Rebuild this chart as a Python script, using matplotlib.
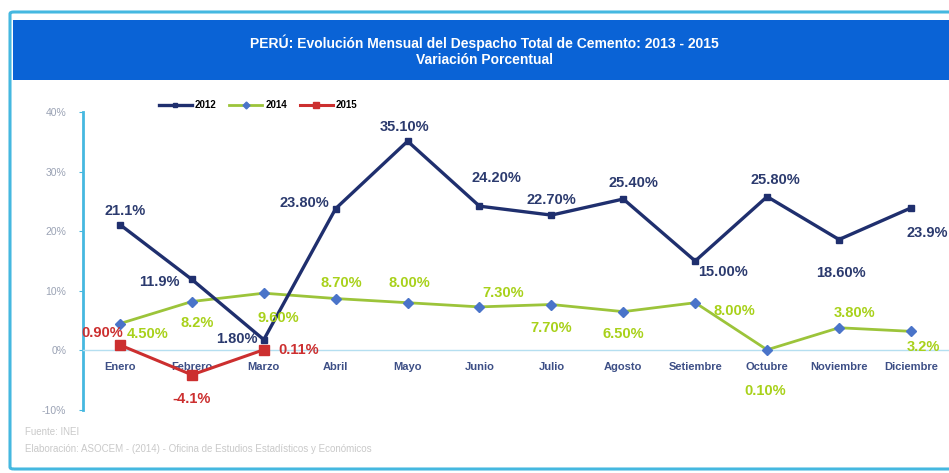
import matplotlib.pyplot as plt
from matplotlib.patches import Rectangle, FancyBboxPatch
from matplotlib.ticker import FuncFormatter

plt.rcParams['font.family'] = ['Liberation Sans', 'DejaVu Sans']

meses = ['Enero', 'Febrero', 'Marzo', 'Abril', 'Mayo', 'Junio', 'Julio',
         'Agosto', 'Setiembre', 'Octubre', 'Noviembre', 'Diciembre']

var_2012 = [21.1, 11.9, 1.80, 23.80, 35.10, 24.20, 22.70, 25.40, 15.00, 25.80, 18.60, 23.9]
var_2014 = [4.50, 8.2, 9.60, 8.70, 8.00, 7.30, 7.70, 6.50, 8.00, 0.10, 3.80, 3.2]
var_2015 = [0.90, -4.1, 0.11]

etq_2012 = ['21.1%', '11.9%', '1.80%', '23.80%', '35.10%', '24.20%', '22.70%',
            '25.40%', '15.00%', '25.80%', '18.60%', '23.9%']
etq_2014 = ['4.50%', '8.2%', '9.60%', '8.70%', '8.00%', '7.30%', '7.70%',
            '6.50%', '8.00%', '0.10%', '3.80%', '3.2%']
etq_2015 = ['0.90%', '-4.1%', '0.11%']

# desplazamiento de cada etiqueta respecto a su punto (pixeles) y alineacion
pos_2012 = [(5, 14, 'center'), (-12, -3, 'right'), (-6, 1, 'right'), (-6, 6, 'right'),
            (-3, 14, 'center'), (17, 28, 'center'), (0, 15, 'center'), (10, 16, 'center'),
            (3, -11, 'left'), (8, 17, 'center'), (2, -33, 'center'), (-4, -25, 'left')]
pos_2014 = [(7, -10, 'left'), (5, -21, 'center'), (15, -25, 'center'), (6, 16, 'center'),
            (2, 20, 'center'), (24, 14, 'center'), (0, -23, 'center'), (0, -22, 'center'),
            (18, -8, 'left'), (-2, -41, 'center'), (16, 15, 'center'), (-4, -16, 'left')]
pos_2015 = [(3, 12, 'right'), (0, -24, 'center'), (15, 0, 'left')]

c_azul = '#1f2f6e'
c_verde = '#9cc43a'
c_verde_txt = '#a8d11a'
c_rojo = '#cc2f2f'
c_celeste = '#45b8e0'

fig = plt.figure(figsize=(9.49, 4.73), dpi=100)
W, H = 949.0, 473.0

# marco y franja de titulo
fig.patches.append(FancyBboxPatch((10 / W, 4 / H), 1.05, 1 - 16 / H, boxstyle='round,pad=0,rounding_size=0.004',
                                  transform=fig.transFigure, fill=False, edgecolor=c_celeste, linewidth=2.2))
fig.patches.append(Rectangle((13 / W, 1 - 80 / H), 1.0, 60 / H, transform=fig.transFigure,
                             facecolor='#0a63d6', edgecolor='none'))
fig.text(484 / W, 1 - 43 / H, 'PERÚ: Evolución Mensual del Despacho Total de Cemento: 2013 - 2015',
         color='white', fontsize=10, fontweight='bold', ha='center', va='center')
fig.text(484 / W, 1 - 60 / H, 'Variación Porcentual',
         color='white', fontsize=10, fontweight='bold', ha='center', va='center')

x0 = 83 / W
ax = fig.add_axes([x0, 1 - 410 / H, 1 - x0, 298 / H])
x = list(range(len(meses)))
ax.set_xlim((83 - 120) / 71.9, (949 - 120) / 71.9)
ax.set_ylim(-10, 40)

l1, = ax.plot(x, var_2012, color=c_azul, lw=2.4, marker='s', ms=5, mfc=c_azul, mec=c_azul, zorder=4)
l2, = ax.plot(x, var_2014, color=c_verde, lw=2.0, marker='D', ms=5, mfc='#4a74c9', mec='#4a74c9', zorder=3)
l3, = ax.plot(x[:len(var_2015)], var_2015, color=c_rojo, lw=2.2, marker='s', ms=7,
              mfc=c_rojo, mec=c_rojo, zorder=5)

for serie, etqs, posic, col in [(var_2012, etq_2012, pos_2012, '#2b3a6e'),
                               (var_2014, etq_2014, pos_2014, c_verde_txt),
                               (var_2015, etq_2015, pos_2015, c_rojo)]:
    for i, (v, t, (dx, dy, ha)) in enumerate(zip(serie, etqs, posic)):
        ax.annotate(t, (i, v), xytext=(dx, dy), textcoords='offset pixels',
                    ha=ha, va='center', fontsize=10.5, fontweight='bold', color=col,
                    annotation_clip=False, zorder=6)

# ejes
for s in ['top', 'right']:
    ax.spines[s].set_visible(False)
ax.spines['left'].set_color(c_celeste)
ax.spines['left'].set_linewidth(2)
ax.spines['bottom'].set_position(('data', 0))
ax.spines['bottom'].set_color('#b5dff0')
ax.spines['bottom'].set_linewidth(1)

ax.set_yticks([-10, 0, 10, 20, 30, 40])
ax.yaxis.set_major_formatter(FuncFormatter(lambda v, pos: '%d%%' % v))
ax.tick_params(axis='y', colors=c_celeste, labelcolor='#9aa2b4', labelsize=7.5, length=3, pad=9)
ax.set_xticks(x)
ax.set_xticklabels(meses, fontweight='bold')
ax.tick_params(axis='x', length=0, labelsize=8, labelcolor='#3d4f86', pad=8)
ax.patch.set_visible(False)

fig.legend([l1, l2, l3], ['2012', '2014', '2015'], loc='center', ncol=3,
           bbox_to_anchor=(258 / W, 1 - 105 / H), frameon=False, handlelength=3.4,
           columnspacing=1.3, handletextpad=0.3, prop={'size': 7, 'weight': 'bold'},
           markerscale=0.7)

fig.text(25 / W, 1 - 432 / H, 'Fuente: INEI', color='#c9c9c9', fontsize=7, va='center')
fig.text(25 / W, 1 - 449 / H,
         'Elaboración: ASOCEM - (2014) - Oficina de Estudios Estadísticos y Económicos',
         color='#c9c9c9', fontsize=7, va='center')

fig.savefig('out.png', dpi=100)
